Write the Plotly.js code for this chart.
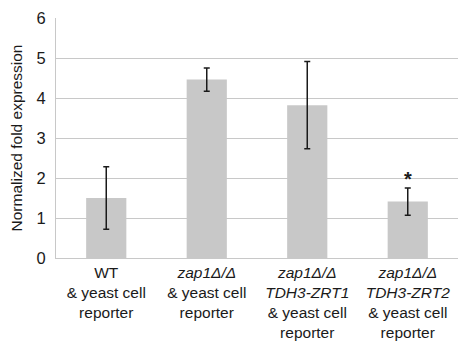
<!DOCTYPE html>
<html>
<head>
<meta charset="utf-8">
<script src="https://cdn.plot.ly/plotly-3.0.1.min.js"></script>
<style>html,body{margin:0;padding:0;background:#fff;}#chart{width:458px;height:343px;}</style>
</head>
<body>
<div id="chart"></div>
<script>
var categories = [
  "WT<br>&amp; yeast cell<br>reporter",
  "<i>zap1Δ/Δ</i><br>&amp; yeast cell<br>reporter",
  "<i>zap1Δ/Δ</i><br><i>TDH3-ZRT1</i><br>&amp; yeast cell<br>reporter",
  "<i>zap1Δ/Δ</i><br><i>TDH3-ZRT2</i><br>&amp; yeast cell<br>reporter"
];
var values = [1.5, 4.46, 3.82, 1.41];
var errors = [0.78, 0.29, 1.09, 0.34];
var yTicks = [0, 1, 2, 3, 4, 5, 6];
var significance = ["", "", "", "*"];

var trace = {
  type: "bar",
  x: categories,
  y: values,
  marker: {color: "#c8c8c8"},
  error_y: {type: "data", array: errors, visible: true, color: "#1a1a1a", thickness: 1.5, width: 3}
};

var annotations = [];
significance.forEach(function(s, i){
  if (s) annotations.push({x: categories[i], y: values[i] + errors[i] + 0.23, text: "<b>" + s + "</b>", showarrow: false,
    yanchor: "middle", font: {family: "Liberation Sans, Arial, sans-serif", size: 20, color: "#1a1a1a"}});
});

var layout = {
  width: 458, height: 343,
  margin: {l: 56, r: 0, t: 18, b: 85},
  paper_bgcolor: "#fff", plot_bgcolor: "#fff",
  bargap: 0.6,
  showlegend: false,
  font: {family: "Liberation Sans, Arial, sans-serif", size: 14, color: "#1a1a1a"},
  xaxis: {
    tickfont: {size: 15.5, color: "#1a1a1a"},
    showline: true, linecolor: "#c8c8c8", linewidth: 1,
    ticks: "", fixedrange: true
  },
  yaxis: {
    range: [0, 6], tickvals: yTicks, ticktext: yTicks.map(String),
    showgrid: true, gridcolor: "#c8c8c8", gridwidth: 1,
    zeroline: false,
    showline: true, linecolor: "#c8c8c8", linewidth: 1,
    ticks: "", ticklen: 0, ticklabelstandoff: 6,
    tickfont: {size: 16.5, color: "#1a1a1a"},
    title: {text: "Normalized fold expression", font: {size: 15.5, color: "#1a1a1a"}, standoff: 10}
  },
  annotations: annotations
};

Plotly.newPlot("chart", [trace], layout, {displayModeBar: false, staticPlot: true});
</script>
</body>
</html>
